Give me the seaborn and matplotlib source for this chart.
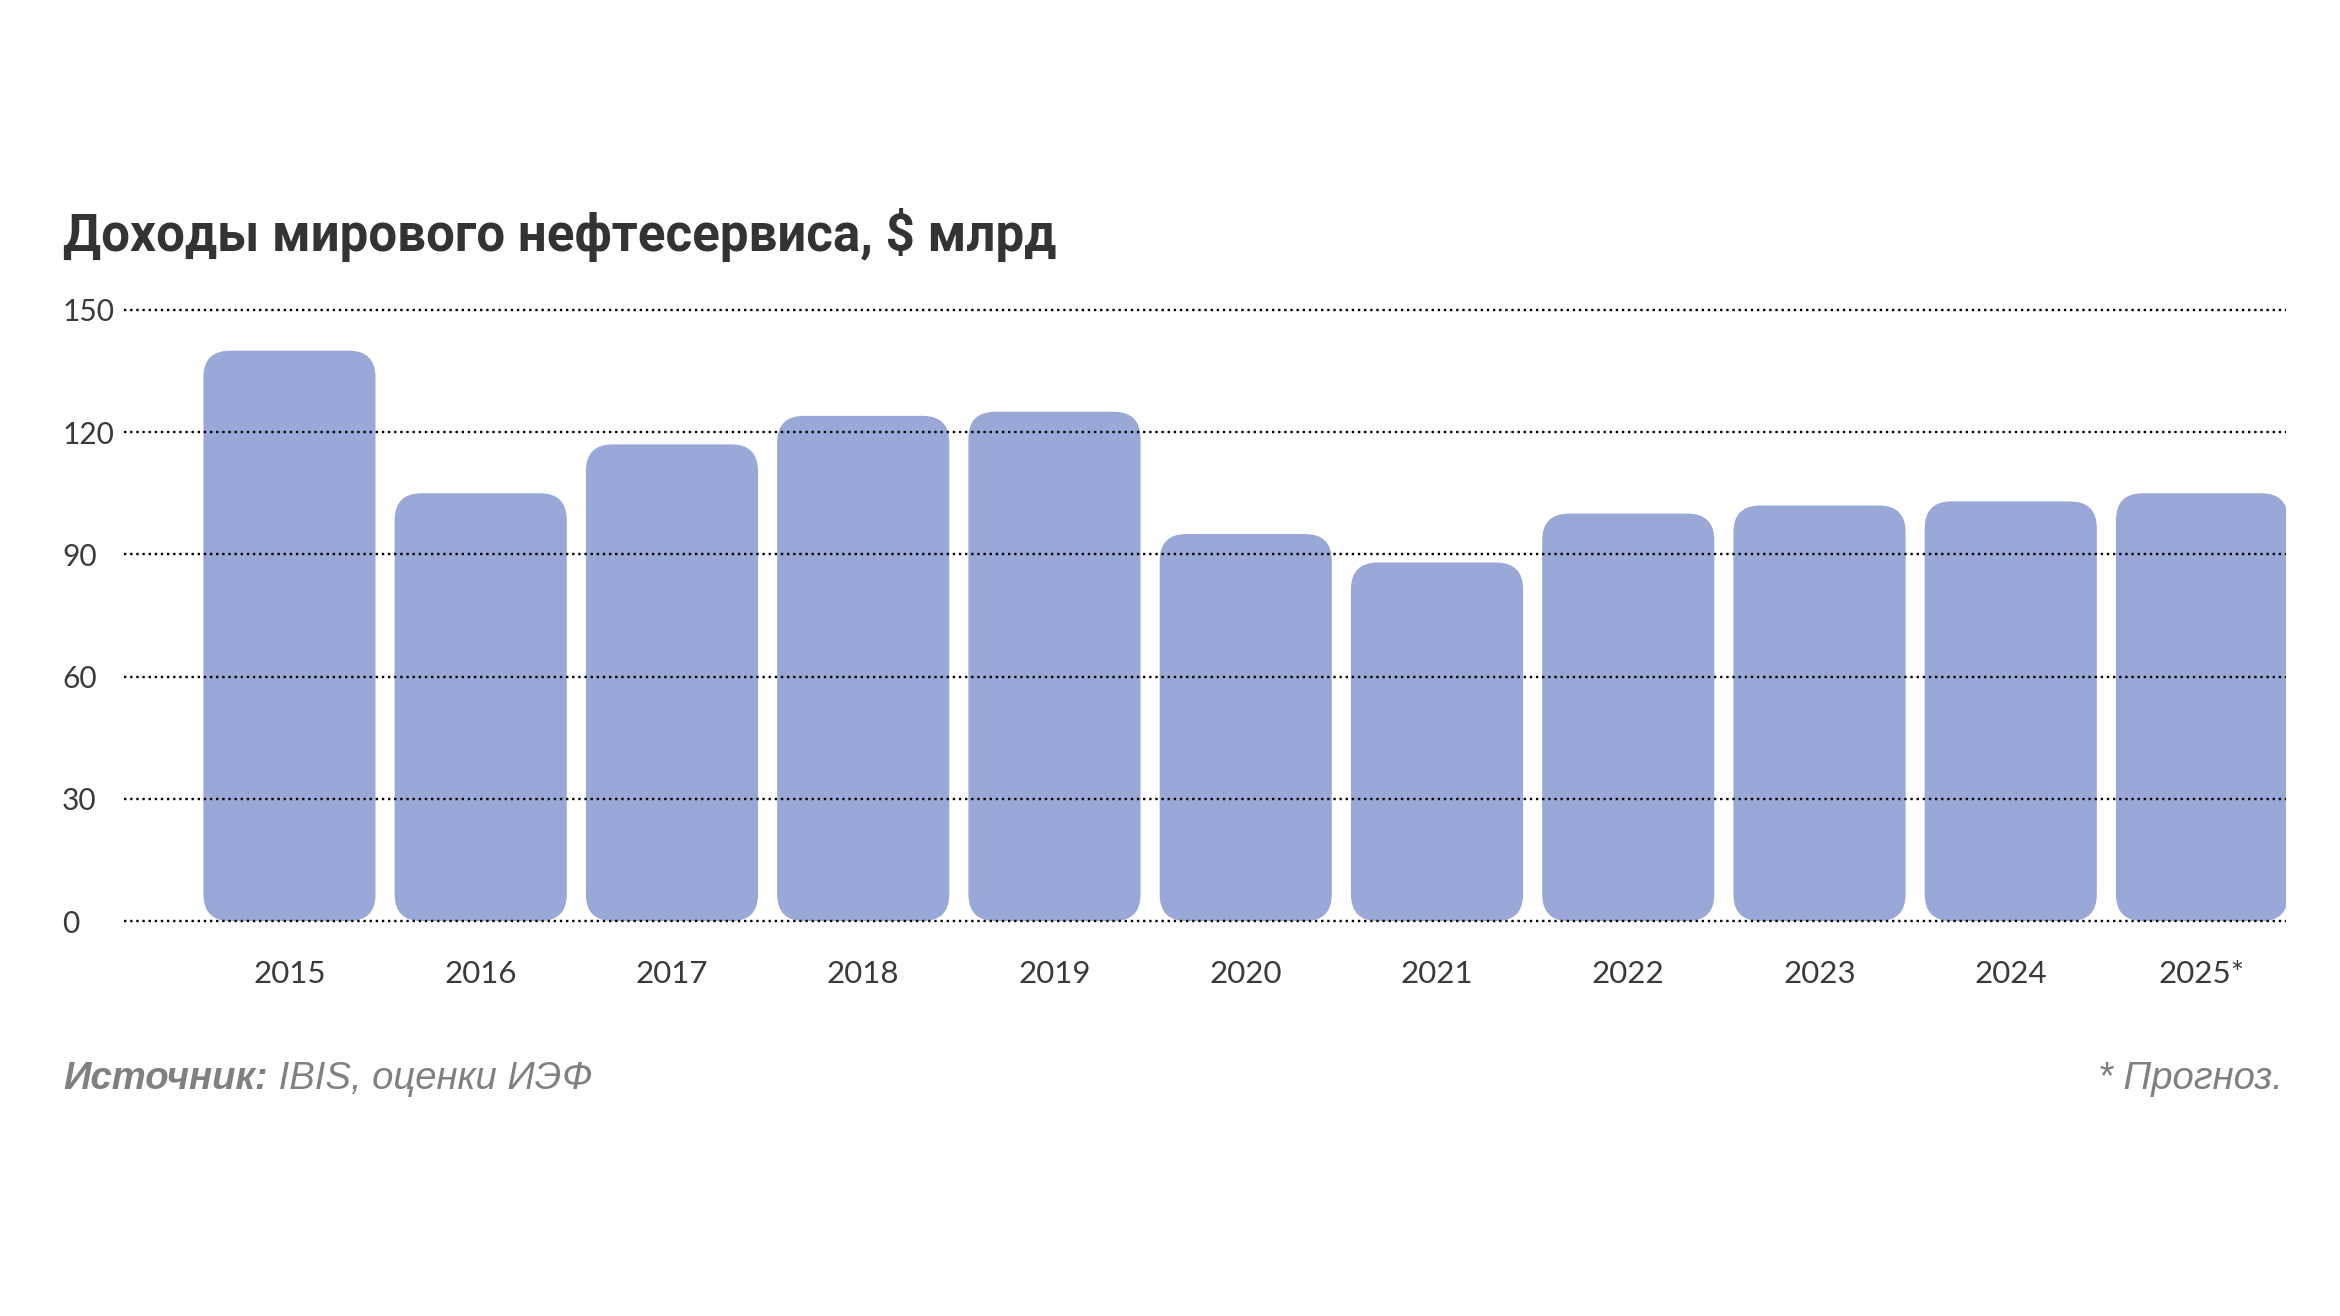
import matplotlib
matplotlib.use('Agg')
import matplotlib.pyplot as plt
from matplotlib.patches import FancyBboxPatch
import pandas as pd
import seaborn as sns

# Data
years = ['2015', '2016', '2017', '2018', '2019', '2020',
         '2021', '2022', '2023', '2024', '2025*']
revenue = [140, 105, 117, 124, 125, 95, 88, 100, 102, 103, 105]
y_ticks = [0, 30, 60, 90, 120, 150]

title = 'Доходы мирового нефтесервиса, $ млрд'
source_bold = 'Источник:'
source_rest = ' IBIS, оценки ИЭФ'
note = '* Прогноз.'

bar_color = '#99a8d6'
text_color = '#3a3a3a'
note_color = '#808080'

sns.set_theme(style='white')
plt.rcParams['font.family'] = ['Lato', 'DejaVu Sans']

df = pd.DataFrame({'year': years, 'revenue': revenue})

fig = plt.figure(figsize=(23.4, 13.16), dpi=100)
ax = fig.add_axes([0.053, 0.2970, 0.924, 0.4706])

sns.barplot(data=df, x='year', y='revenue', color=bar_color,
            width=0.9, saturation=1, ax=ax)

# swap plain rectangles for rounded ones
for bar in list(ax.patches):
    x, y = bar.get_x(), bar.get_y()
    w, h = bar.get_width(), bar.get_height()
    bar.remove()
    ax.add_patch(FancyBboxPatch((x, y), w, h,
                                boxstyle='round,pad=0,rounding_size=0.14',
                                mutation_aspect=47,
                                facecolor=bar_color, edgecolor='none',
                                zorder=1))

ax.set(xlim=(-0.865, 10.44), ylim=(-1, 151), xlabel='', ylabel='')
ax.set_yticks(y_ticks)

ax.yaxis.grid(True, color='black', linestyle=(0, (1, 1.6)), linewidth=1.7)
ax.xaxis.grid(False)
ax.set_axisbelow(False)
sns.despine(ax=ax, left=True, bottom=True)

ax.tick_params(axis='y', length=0, pad=44.6, labelsize=21.5,
               labelcolor=text_color)
ax.tick_params(axis='x', length=0, pad=25, labelsize=22.5,
               labelcolor=text_color)
for label in ax.get_yticklabels():
    label.set_ha('left')

fig.text(63 / 2340, 0.8093, title, fontsize=36.7, fontweight='bold',
         color='#333333', family=['Roboto', 'DejaVu Sans'], va='baseline')

# footer
src = fig.text(63 / 2340, 0.1725, source_bold, fontsize=27.5,
               fontweight='bold', style='italic', color=note_color,
               family=['Liberation Sans', 'DejaVu Sans'], va='baseline')
fig.canvas.draw()
bb = src.get_window_extent()
fig.text(bb.x1 / fig.bbox.width, 0.1725, source_rest, fontsize=27.5,
         style='italic', color=note_color,
         family=['Liberation Sans', 'DejaVu Sans'], va='baseline')
fig.text(2283 / 2340, 0.1725, note, fontsize=27.5, style='italic',
         color=note_color, family=['Liberation Sans', 'DejaVu Sans'],
         ha='right', va='baseline')

fig.savefig('out.png', dpi=100, facecolor='white')
